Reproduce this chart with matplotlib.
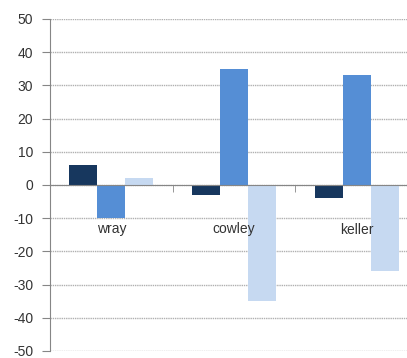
import matplotlib
matplotlib.use("Agg")
import matplotlib.pyplot as plt
import numpy as np

categories = ["wray", "cowley", "keller"]
series_a = [6, -3, -4]
series_b = [-10, 35, 33]
series_c = [2, -35, -26]
y_ticks = [-50, -40, -30, -20, -10, 0, 10, 20, 30, 40, 50]

colors = ["#17375E", "#558ED5", "#C6D9F1"]

plt.rcParams["font.family"] = ["Liberation Sans", "DejaVu Sans"]

fig = plt.figure(figsize=(4.07, 3.58), dpi=100)
ax = fig.add_axes([50 / 407, 7.0 / 358, 368 / 407, 332.0 / 358])

x = np.arange(len(categories))
w = 0.228
for i, (vals, c) in enumerate(zip([series_a, series_b, series_c], colors)):
    ax.bar(x + (i - 1) * w, vals, width=w, color=c, zorder=3)

ax.set_xlim(-0.5, len(categories) - 0.5)
ax.set_ylim(-50, 50)
ax.set_yticks(y_ticks)
ax.set_yticklabels([str(v) for v in y_ticks])
ax.yaxis.grid(True, linestyle=(0, (1, 0.6)), color="#B0B0B0", linewidth=1.0, zorder=0)

for s in ["top", "right"]:
    ax.spines[s].set_visible(False)
ax.spines["left"].set_color("#868686")
ax.spines["bottom"].set_position(("data", 0))
ax.spines["bottom"].set_color("#868686")
ax.spines["bottom"].set_zorder(4)
ax.xaxis.set_zorder(5)

ax.set_xticks(x)
ax.set_xticklabels(categories)
ax.set_xticks(np.arange(0.5, len(categories) - 0.5, 1.0), minor=True)
ax.tick_params(axis="x", which="major", length=0, pad=27, labelsize=10, labelcolor="#333333")
ax.tick_params(axis="x", which="minor", length=5, direction="out", color="#868686")
ax.tick_params(axis="y", length=6, direction="out", color="#868686", pad=6, labelsize=10, labelcolor="#333333")

fig.savefig("out.png", dpi=100)
